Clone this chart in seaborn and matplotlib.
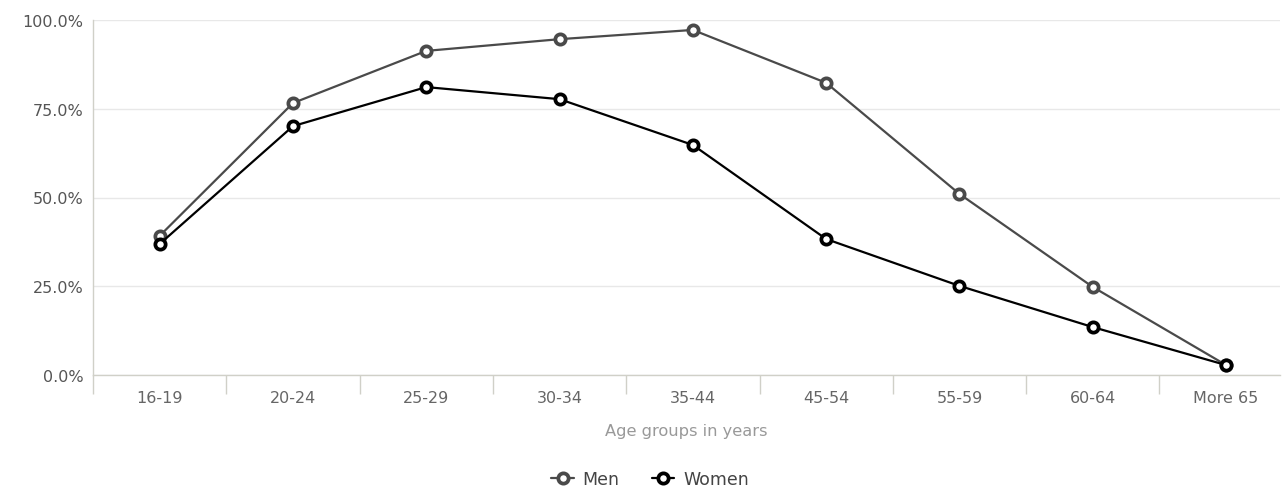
import numpy as np
import pandas as pd
import matplotlib
matplotlib.use("Agg")
import matplotlib.pyplot as plt
from matplotlib.ticker import FixedLocator, PercentFormatter
import seaborn as sns

# Employment rate by age group and sex (percent)
age_groups = ["16-19", "20-24", "25-29", "30-34", "35-44", "45-54", "55-59", "60-64", "More 65"]
men = [39.2, 76.6, 91.3, 94.6, 97.2, 82.3, 51.0, 24.8, 2.8]
women = [36.9, 70.1, 81.1, 77.7, 64.8, 38.3, 25.1, 13.5, 2.8]
series_names = ["Men", "Women"]
series_colors = ["#4a4a4a", "#000000"]

df = pd.DataFrame({
    "pos": list(range(len(age_groups))) * 2,
    "rate": men + women,
    "sex": [series_names[0]] * len(men) + [series_names[1]] * len(women),
})

sns.set_theme(style="white")
plt.rcParams["font.family"] = ["DejaVu Sans"]

fig = plt.figure(figsize=(12.82, 4.89), dpi=100)
ax = fig.add_axes([93 / 1282, 1 - 376 / 489, (1280 - 93) / 1282, (376 - 21) / 489])

sns.lineplot(
    data=df, x="pos", y="rate", hue="sex",
    palette=dict(zip(series_names, series_colors)),
    hue_order=series_names,
    marker="o", markersize=7.4, markerfacecolor="white", markeredgewidth=2.7,
    linewidth=1.6, legend=False, ax=ax,
)
for line in ax.lines:
    line.set_markeredgecolor(line.get_color())
    line.set_clip_on(False)
    line.set_zorder(3)

n = len(age_groups)
ax.set_xlim(-0.5, -0.5 + (1280 - 93) / 133.3)
ax.set_ylim(0, 100)

# category labels centred, separator ticks between categories
ax.set_xticks(range(n))
ax.set_xticklabels(age_groups)
ax.xaxis.set_minor_locator(FixedLocator(np.arange(-0.5, n - 0.5, 1.0)))
ax.tick_params(axis="x", which="major", bottom=True, length=0, pad=11,
               labelsize=11.5, labelcolor="#666666")
ax.tick_params(axis="x", which="minor", bottom=True, length=14, width=1,
               color="#d0d0c8", direction="out")
ax.set_yticks([0, 25, 50, 75, 100])
ax.yaxis.set_major_formatter(PercentFormatter(decimals=1))
ax.tick_params(axis="y", length=0, pad=7, labelsize=11.5, labelcolor="#555555")

ax.grid(axis="y", color="#e8e8e8", linewidth=1)
ax.set_axisbelow(True)
for side in ["top", "right"]:
    ax.spines[side].set_visible(False)
for side in ["left", "bottom"]:
    ax.spines[side].set_color("#d0d0c8")
    ax.spines[side].set_linewidth(1)

ax.set_ylabel("")
ax.set_xlabel("Age groups in years", color="#999999", fontsize=11.7, labelpad=13)

handles = ax.lines[:2]
fig.legend(handles, series_names, loc="center", bbox_to_anchor=(650 / 1282, 1 - 480 / 489),
           ncol=2, frameon=False, fontsize=12.5, labelcolor="#444444",
           handlelength=1.3, handletextpad=0.5, columnspacing=1.85,
           borderpad=0, borderaxespad=0)

fig.savefig("out.png", dpi=100)
